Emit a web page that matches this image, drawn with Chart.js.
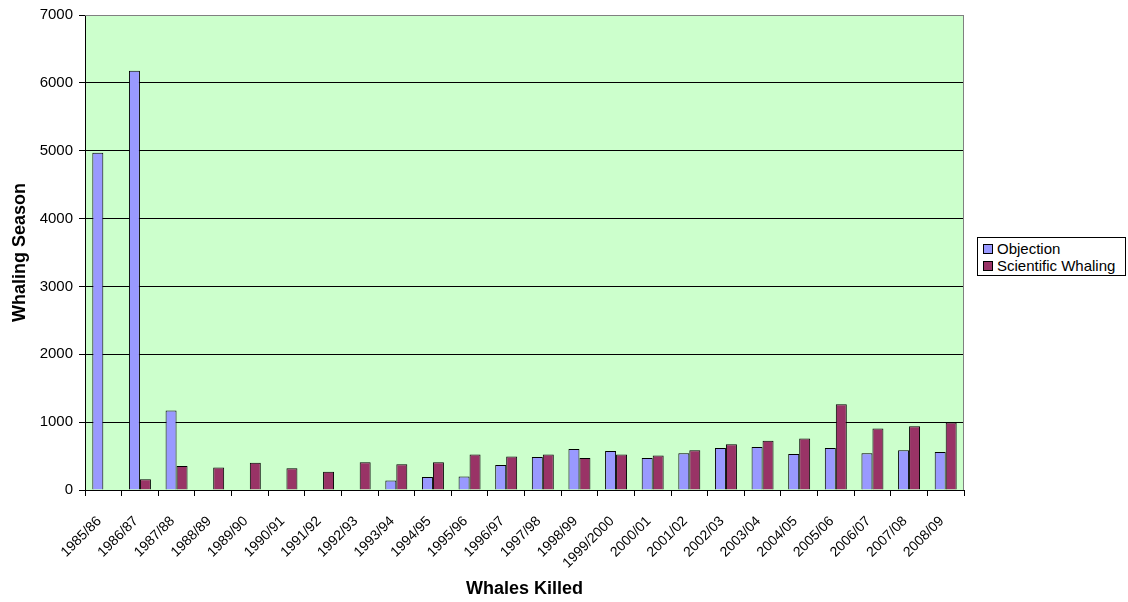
<!DOCTYPE html>
<html>
<head>
<meta charset="utf-8">
<script src="https://cdn.jsdelivr.net/npm/chart.js@4.4.1/dist/chart.umd.min.js"></script>
<style>
  html, body { margin: 0; padding: 0; background: #fff; }
  #wrap { position: relative; width: 1128px; height: 602px; }
  #legend {
    position: absolute; left: 977px; top: 237px; width: 147px; height: 37px;
    border: 1px solid #000; background: #fff;
    font: 15px "Liberation Sans", Arial, sans-serif; color: #000;
  }
  .item { position: absolute; left: 5px; height: 17px; line-height: 17px; white-space: nowrap; }
  .item i { display: inline-block; width: 8px; height: 8px; border: 1px solid #000; margin-right: 4px; vertical-align: 0px; }
</style>
</head>
<body>
<div id="wrap">
  <canvas id="whaleChart" width="1128" height="602"></canvas>
  <div id="legend">
    <div class="item" style="top:2px"><i style="background:#9999FF"></i>Objection</div>
    <div class="item" style="top:19px"><i style="background:#993366"></i>Scientific Whaling</div>
  </div>
</div>
<script>
const seasons = ['1985/86', '1986/87', '1987/88', '1988/89', '1989/90', '1990/91', '1991/92', '1992/93',
  '1993/94', '1994/95', '1995/96', '1996/97', '1997/98', '1998/99', '1999/2000', '2000/01',
  '2001/02', '2002/03', '2003/04', '2004/05', '2005/06', '2006/07', '2007/08', '2008/09'];

const objection = [4970, 6180, 1170, null, null, null, null, null, 140, 190, 200, 370,
  485, 605, 575, 470, 540, 620, 635, 530, 620, 540, 585, 560];

const scientific = [null, 160, 355, 330, 400, 320, 270, 410, 380, 410, 525, 495,
  525, 470, 525, 510, 585, 675, 725, 760, 1265, 905, 940, 995];

const yMax = 7000;
const yStep = 1000;

const plotBg = {
  id: 'plotBg',
  beforeDraw(chart) {
    const { ctx, chartArea: a } = chart;
    ctx.save();
    ctx.fillStyle = '#CCFFCC';
    ctx.fillRect(a.left, a.top, a.right - a.left, a.bottom - a.top);
    ctx.restore();
  },
  afterDatasetsDraw(chart) {
    const { ctx, chartArea: a } = chart;
    ctx.save();
    ctx.strokeStyle = '#808080';
    ctx.lineWidth = 1;
    ctx.beginPath();
    ctx.moveTo(a.left, a.top + 0.5);
    ctx.lineTo(a.right - 0.5, a.top + 0.5);
    ctx.lineTo(a.right - 0.5, a.bottom);
    ctx.stroke();
    ctx.restore();
  }
};

const font = '"Liberation Sans", Arial, sans-serif';

new Chart(document.getElementById('whaleChart'), {
  type: 'bar',
  data: {
    labels: seasons,
    datasets: [
      { label: 'Objection', data: objection, backgroundColor: '#9999FF', borderColor: '#000', borderWidth: 1 },
      { label: 'Scientific Whaling', data: scientific, backgroundColor: '#993366', borderColor: '#000', borderWidth: 1 }
    ]
  },
  options: {
    responsive: false,
    animation: false,
    categoryPercentage: 0.6,
    barPercentage: 1.0,
    layout: { padding: { top: 14, right: 164, left: 0, bottom: 0 } },
    plugins: {
      legend: { display: false },
      tooltip: { enabled: false }
    },
    scales: {
      x: {
        afterFit: s => { s.height = 112; },
        grid: { drawOnChartArea: false, tickLength: 6, tickColor: '#000', offset: true },
        border: { color: '#000' },
        ticks: { color: '#000', font: { family: font, size: 14 }, minRotation: 45, maxRotation: 45, autoSkip: false, padding: 17, labelOffset: -4 },
        title: { display: true, text: 'Whales Killed', color: '#000', font: { family: font, size: 18, weight: 'bold' }, padding: { top: 0, bottom: 2 } }
      },
      y: {
        min: 0,
        max: yMax,
        afterFit: s => { s.width = 85; },
        grid: {
          color: c => c.tick && c.tick.value === yMax ? '#808080' : '#000',
          tickColor: '#000',
          tickLength: 6
        },
        border: { color: '#000' },
        ticks: { stepSize: yStep, color: '#000', font: { family: font, size: 15 }, padding: 6, callback: v => String(v) },
        title: { display: true, text: 'Whaling Season', color: '#000', font: { family: font, size: 18, weight: 'bold' }, padding: { top: 9, bottom: 0 } }
      }
    }
  },
  plugins: [plotBg]
});
</script>
</body>
</html>
